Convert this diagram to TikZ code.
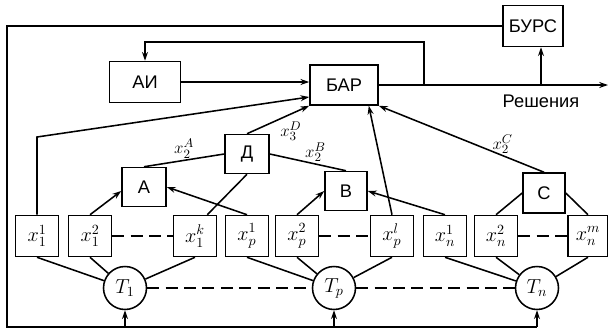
\documentclass[tikz,border=0pt]{standalone}
\usepackage[no-math]{fontspec}
\setmainfont{Liberation Sans}
\usetikzlibrary{arrows.meta,positioning}
\begin{document}
\begin{tikzpicture}[x=0.25mm,y=-0.25mm,>={Stealth[length=2.2mm,width=1.5mm]},line width=1.1pt,
  every node/.style={font=\fontsize{13}{15}\selectfont},
  blk/.style={draw,inner sep=0pt,minimum width=11mm,minimum height=9.75mm},
  xv/.style={blk,minimum width=10.75mm,minimum height=10.25mm,font=\fontsize{14}{16}\selectfont},
  tc/.style={draw,circle,inner sep=0pt,minimum size=10.75mm,font=\fontsize{14}{16}\selectfont},
  lbl/.style={inner sep=1pt},
  dsh/.style={dash pattern=on 3mm off 1.6mm}]
\useasboundingbox (0,0) rectangle (608,333);
\node[blk,minimum width=15mm,minimum height=10.25mm] (burs) at (533,26) {БУРС};
\node[blk,minimum width=17.75mm,minimum height=10.25mm] (ai) at (145,82) {АИ};
\node[blk,minimum width=17mm,minimum height=10mm] (bar) at (344,85) {БАР};
\node[blk] (d) at (247,154) {Д};
\node[blk] (a) at (144,187) {A};\node[blk,minimum width=10.5mm] (b) at (346,191) {B};\node[blk,minimum width=10.5mm,minimum height=10mm] (c) at (544,193) {C};
% terminal row
\node[xv] (x11) at (37,236) {$x_1^1$};\node[xv] (x12) at (90,236) {$x_1^2$};\node[xv] (x1k) at (195,236) {$x_1^k$};
\node[xv] (xp1) at (247,236) {$x_p^1$};\node[xv] (xp2) at (297,236) {$x_p^2$};\node[xv] (xpl) at (392,236) {$x_p^l$};
\node[xv] (xn1) at (445,236) {$x_n^1$};\node[xv] (xn2) at (496,236) {$x_n^2$};\node[xv,minimum width=10mm] (xnm) at (588,236) {$x_n^m$};
\node[tc] (t1) at (125,288) {$T_1$};\node[tc] (tp) at (334,288) {$T_p$};\node[tc] (tn) at (537,288) {$T_n$};
\coordinate (lb) at (7,327);\coordinate (fb) at (424,85);\coordinate (up) at (541,85);\coordinate (out) at (608,85);\coordinate (k1) at (37,137);
\node[below=1mm of up] (resh) {Решения};
% feedback and output
\draw[->] (ai) -- (ai -| bar.west);\draw[->] (bar.east) -- (out);
\draw[->] (fb) -- ++(0,-43) -| (ai.north);\draw[->] (up) -- (up |- burs.south);
\draw (burs.west) -| (lb) -- (tn |- lb);
\draw[->] (t1 |- lb) -- (t1.south);\draw[->] (tp |- lb) -- (tp.south);\draw[->] (tn |- lb) -- (tn.south);
% upward links
\draw[->] (x11.north) -- (k1) -- ([yshift=-3mm]bar.west);
\draw (a.north) -- node[above,lbl] (lA) {$x_2^A$} (d.west);
\draw (d.east) -- node[above,pos=.6,lbl] (lB) {$x_2^B$} (b.north);
\draw[->] (d.north) -- node[below right,lbl] (lD) {$x_3^D$} (bar.south west);
\draw[->] (c.north) -- node[above,pos=.25,lbl] (lC) {$x_2^C$} (bar.south east);
\draw[->] (xpl.north) -- ([xshift=-2.5mm]bar.south east);
\draw[->] (x12.north) -- ([yshift=-1mm]a.west);\draw[->] (xp1.north) -- (a.east);\draw (x1k.60) -- (d.south);
\draw[->] (xp2.north) -- (b.west);\draw[->] (xn1.north) -- (b.east);
\draw (c.west) -- (xn2.north);\draw (c.east) -- (xnm.north);
% terminals to T
\draw (x11.south) -- (t1);\draw (x12.south) -- (t1);\draw (x1k.south) -- (t1);
\draw (xp1.south) -- (tp);\draw (xp2.south) -- (tp);\draw (xpl.south) -- (tp);
\draw (xn1.south) -- (tn);\draw (xn2.south) -- (tn);\draw (xnm.south) -- (tn);
\draw[dsh] (x12.east) -- (x1k.west);\draw[dsh] (xp2.east) -- (xpl.west);\draw[dsh] (xn2.east) -- (xnm.west);
\draw[dsh] (t1.east) -- (tp.west);\draw[dsh] (tp.east) -- (tn.west);
\end{tikzpicture}
\end{document}
